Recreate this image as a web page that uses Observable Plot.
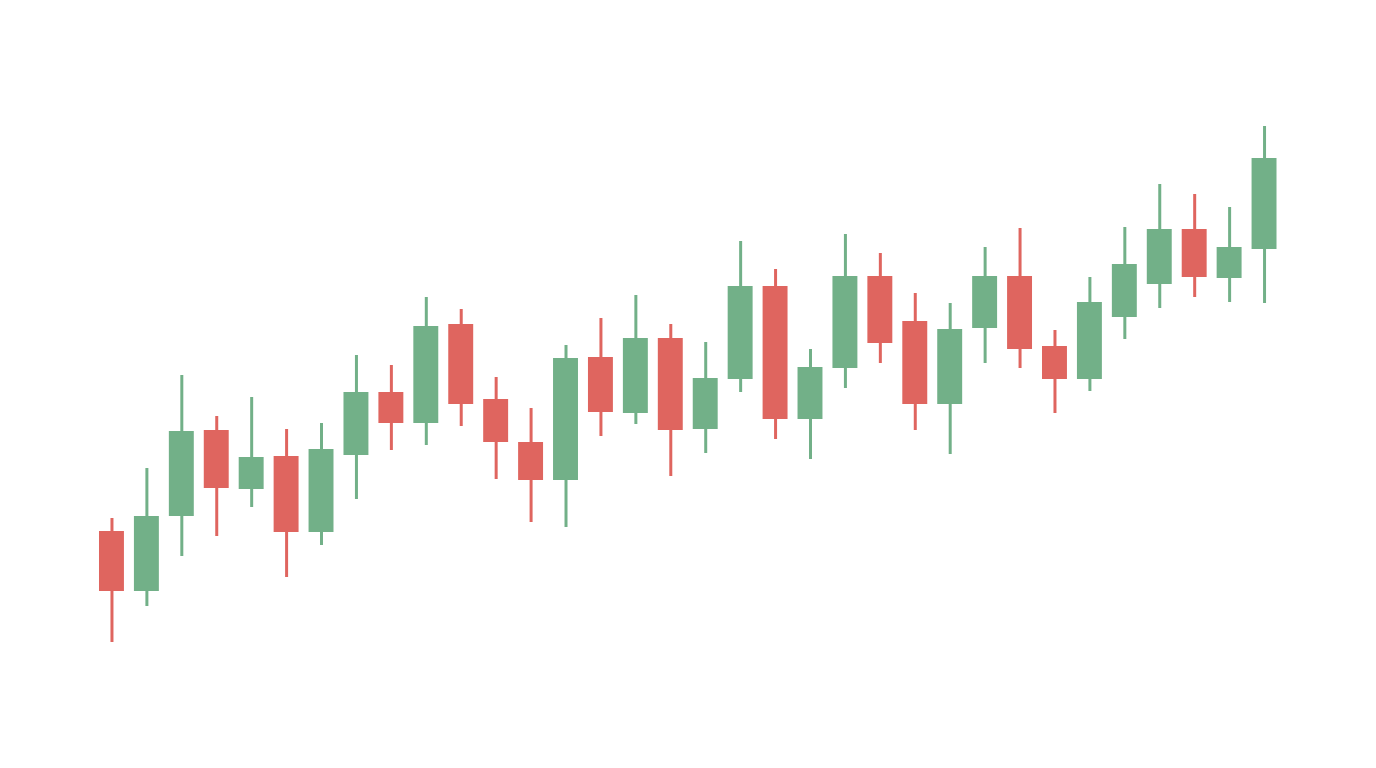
<!DOCTYPE html>
<html>
<head>
<meta charset="utf-8">
<script src="https://cdn.jsdelivr.net/npm/d3@7"></script>
<script src="https://cdn.jsdelivr.net/npm/@observablehq/plot@0.6"></script>
<style>
  html, body { margin: 0; padding: 0; background: #ffffff; }
  #chart svg { display: block; }
</style>
</head>
<body>
<div id="chart"></div>
<script>
const days  = [1,2,3,4,5,6,7,8,9,10,11,12,13,14,15,16,17,18,19,20,21,22,23,24,25,26,27,28,29,30,31,32,33,34];
const open  = [169,109,184,270,211,244,168,245,308,277,376,301,258,220,343,287,362,271,321,414,281,332,424,379,296,372,424,354,321,383,416,471,422,451];
const close = [109,184,269,212,243,168,251,308,277,374,296,258,220,342,288,362,270,322,414,281,333,424,357,296,371,424,351,321,398,436,471,423,453,542];
const high  = [182,232,325,284,303,271,277,345,335,403,391,323,292,355,382,405,376,358,459,431,351,466,447,407,397,453,472,370,423,473,516,506,493,574];
const low   = [ 58, 94,144,164,193,123,155,201,250,255,274,221,178,173,264,276,224,247,308,261,241,312,337,270,246,337,332,287,309,361,392,403,398,397];

const UP = "#72b088";
const DOWN = "#df655f";

const data = days.map((d, i) => ({
  day: d, open: open[i], close: close[i], high: high[i], low: low[i],
  up: close[i] >= open[i]
}));

const chart = Plot.plot({
  width: 1376,
  height: 768,
  margin: 0,
  style: { background: "#ffffff" },
  x: { type: "band", domain: days, range: [94, 1281.5], paddingInner: 0.286, paddingOuter: 0.143, axis: null },
  y: { domain: [-68, 700], range: [768, 0], axis: null },
  marks: [
    Plot.ruleX(data, { x: "day", y1: "low", y2: "high", stroke: d => d.up ? UP : DOWN, strokeWidth: 3 }),
    Plot.barY(data, { x: "day", y1: "open", y2: "close", fill: d => d.up ? UP : DOWN })
  ]
});
document.getElementById("chart").appendChild(chart);
</script>
</body>
</html>
